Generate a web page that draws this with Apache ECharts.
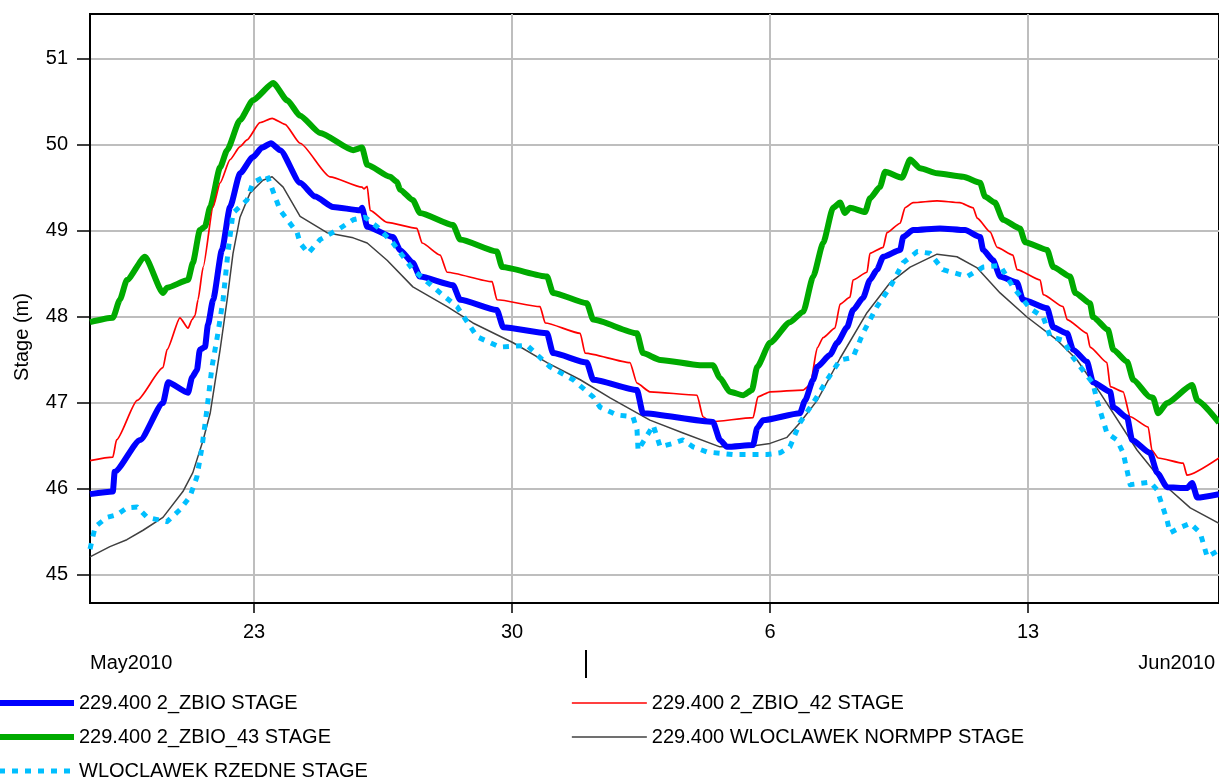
<!DOCTYPE html>
<html>
<head>
<meta charset="utf-8">
<script src="https://cdn.jsdelivr.net/npm/echarts@6/dist/echarts.min.js"></script>
<style>
html,body{margin:0;padding:0;background:#fff;}
#chart{width:1219px;height:781px;}
</style>
</head>
<body>
<div id="chart"></div>
<script>
// x = day number counted from May 1 (Jun 1 = 32)
const xTicks = [23, 30, 37, 44];
const yTicks = [45, 46, 47, 48, 49, 50, 51];
const monthBoundary = [32];
const seriesNames = [
  '229.400 2_ZBIO STAGE',
  '229.400 2_ZBIO_42 STAGE',
  '229.400 2_ZBIO_43 STAGE',
  '229.400 WLOCLAWEK NORMPP STAGE',
  'WLOCLAWEK RZEDNE STAGE'
];

const zbio = [
[18.55,45.94],[19.17,45.97],[19.22,46.20],[19.91,46.57],[20.53,47.00],[20.67,47.24],[21.21,47.12],[21.32,47.30],
[21.45,47.38],[21.53,47.62],[21.67,47.65],[21.75,47.91],[21.89,48.20],[22.13,48.78],[22.35,49.28],[22.62,49.67],
[22.97,49.86],[23.22,49.97],[23.46,50.02],[23.71,49.94],[24.25,49.56],[24.66,49.40],[25.14,49.28],[25.88,49.24],
[25.93,49.27],[26.07,49.05],[26.77,48.93],[26.96,48.78],[27.31,48.63],[27.50,48.47],[28.40,48.37],[28.59,48.20],
[29.59,48.08],[29.76,47.88],[30.95,47.81],[31.11,47.58],[32.03,47.47],[32.20,47.27],[33.39,47.15],[33.55,46.88],
[35.45,46.78],[35.64,46.57],[35.83,46.49],[36.54,46.51],[36.65,46.71],[36.81,46.80],[37.81,46.88],[37.95,47.03],
[38.17,47.27],[38.28,47.42],[38.63,47.56],[38.82,47.70],[39.09,47.88],[39.25,48.08],[39.52,48.22],[39.71,48.43],
[39.90,48.55],[40.07,48.70],[40.53,48.78],[40.61,48.93],[40.88,49.01],[41.61,49.03],[42.29,49.01],[42.70,48.93],
[42.78,48.78],[43.05,48.66],[43.24,48.47],[43.70,48.40],[43.86,48.20],[44.52,48.10],[44.68,47.88],[45.06,47.81],
[45.22,47.62],[45.60,47.48],[45.76,47.24],[46.23,47.13],[46.31,46.95],[46.69,46.83],[46.82,46.57],[47.31,46.42],
[47.50,46.19],[47.77,46.02],[48.31,46.01],[48.45,46.07],[48.59,45.90],[49.18,45.94]
];

const zbio42 = [
[18.55,46.33],[19.17,46.37],[19.27,46.57],[19.83,47.03],[20.53,47.41],[20.64,47.62],[20.99,47.99],[21.21,47.87],
[21.32,47.97],[21.40,48.02],[21.48,48.20],[21.62,48.58],[21.89,49.28],[22.08,49.56],[22.35,49.83],[22.62,49.98],
[22.81,50.06],[23.16,50.26],[23.49,50.31],[23.84,50.24],[24.25,50.02],[25.06,49.63],[25.93,49.51],[25.98,49.49],
[26.07,49.52],[26.15,49.24],[26.61,49.10],[27.42,49.03],[27.56,48.86],[28.05,48.72],[28.24,48.52],[29.46,48.41],
[29.59,48.20],[30.76,48.12],[30.90,47.93],[31.85,47.81],[31.98,47.58],[33.20,47.47],[33.39,47.23],[33.74,47.13],
[35.02,47.09],[35.18,46.84],[35.37,46.78],[36.54,46.83],[36.67,47.07],[37.00,47.13],[37.90,47.15],[38.09,47.21],
[38.28,47.64],[38.44,47.76],[38.76,47.87],[38.90,48.15],[39.17,48.23],[39.25,48.43],[39.63,48.52],[39.71,48.74],
[40.07,48.81],[40.17,48.98],[40.53,49.09],[40.66,49.27],[40.88,49.33],[41.53,49.35],[42.15,49.33],[42.51,49.27],
[42.62,49.15],[42.97,48.99],[43.16,48.81],[43.59,48.72],[43.70,48.55],[44.33,48.43],[44.41,48.26],[44.95,48.12],
[45.06,47.97],[45.60,47.81],[45.68,47.65],[46.14,47.47],[46.23,47.19],[46.58,47.13],[46.77,46.84],[47.26,46.72],
[47.36,46.45],[47.53,46.36],[48.21,46.30],[48.31,46.16],[49.18,46.36]
];

const zbio43 = [
[18.55,47.94],[19.17,47.99],[19.36,48.20],[19.55,48.43],[20.04,48.70],[20.53,48.28],[20.64,48.34],[21.21,48.43],
[21.34,48.63],[21.53,49.01],[21.67,49.05],[21.81,49.28],[22.08,49.74],[22.27,49.94],[22.62,50.29],[22.97,50.52],
[23.52,50.72],[23.90,50.52],[24.25,50.34],[24.79,50.14],[25.69,49.94],[25.93,49.97],[26.07,49.77],[26.69,49.63],
[26.88,49.57],[26.96,49.48],[27.31,49.36],[27.50,49.21],[28.40,49.07],[28.59,48.90],[29.59,48.76],[29.73,48.58],
[30.95,48.47],[31.11,48.28],[32.03,48.16],[32.20,47.97],[33.39,47.81],[33.55,47.58],[34.02,47.50],[35.10,47.44],
[35.45,47.44],[35.64,47.29],[35.91,47.13],[36.27,47.09],[36.51,47.15],[36.65,47.42],[37.00,47.70],[37.54,47.94],
[37.90,48.06],[38.17,48.47],[38.44,48.86],[38.71,49.27],[38.90,49.33],[39.03,49.21],[39.17,49.27],[39.58,49.22],
[39.71,49.38],[39.98,49.51],[40.12,49.69],[40.58,49.62],[40.80,49.83],[41.07,49.73],[41.53,49.67],[42.24,49.63],
[42.70,49.56],[42.83,49.40],[43.10,49.33],[43.32,49.13],[43.78,49.03],[43.92,48.87],[44.52,48.78],[44.68,48.58],
[45.14,48.47],[45.28,48.28],[45.68,48.16],[45.76,48.00],[46.17,47.85],[46.31,47.62],[46.69,47.48],[46.85,47.27],
[47.31,47.07],[47.39,47.06],[47.53,46.88],[47.77,47.00],[48.45,47.21],[48.59,47.03],[49.18,46.77]
];

const normpp = [
[18.55,45.21],[19.09,45.33],[19.55,45.41],[19.99,45.52],[20.53,45.67],[21.07,45.97],[21.34,46.19],[21.62,46.57],
[21.81,46.88],[22.08,47.62],[22.27,48.20],[22.43,48.74],[22.62,49.16],[22.89,49.44],[23.24,49.59],[23.49,49.63],
[23.79,49.51],[24.25,49.17],[24.98,48.98],[25.69,48.92],[26.07,48.86],[26.61,48.66],[27.31,48.35],[28.24,48.12],
[28.94,47.93],[30.03,47.70],[30.95,47.47],[31.85,47.27],[32.66,47.06],[33.74,46.80],[34.64,46.65],[35.64,46.49],
[36.38,46.49],[37.00,46.53],[37.46,46.60],[37.81,46.77],[38.28,47.03],[38.90,47.52],[39.63,48.05],[40.26,48.40],
[40.80,48.58],[41.53,48.73],[42.07,48.70],[42.62,48.57],[43.24,48.28],[43.97,48.00],[44.79,47.73],[45.33,47.50],
[45.95,47.12],[46.96,46.45],[47.77,46.02],[48.40,45.78],[49.18,45.60]
];

const rzedne = [
[18.55,45.30],[18.69,45.56],[19.01,45.67],[19.28,45.70],[19.55,45.78],[19.83,45.79],[20.10,45.67],[20.64,45.62],
[20.99,45.76],[21.26,45.91],[21.45,46.14],[21.59,46.49],[21.72,46.92],[21.86,47.42],[22.02,47.81],[22.16,48.20],
[22.29,48.74],[22.43,49.21],[22.81,49.36],[22.97,49.56],[23.35,49.65],[23.71,49.24],[24.17,48.98],[24.25,48.86],
[24.47,48.74],[24.79,48.90],[25.33,49.03],[25.69,49.13],[26.01,49.16],[26.34,49.05],[26.77,48.86],[27.31,48.55],
[28.05,48.28],[28.51,48.12],[29.05,47.77],[29.67,47.65],[30.41,47.67],[31.03,47.42],[31.66,47.27],[32.20,47.07],
[32.39,46.95],[32.85,46.86],[33.28,46.84],[33.39,46.69],[33.42,46.45],[33.83,46.74],[34.02,46.49],[34.37,46.53],
[34.64,46.57],[34.91,46.49],[35.29,46.43],[36.00,46.40],[36.92,46.40],[37.27,46.42],[37.54,46.49],[37.81,46.77],
[38.17,47.00],[38.55,47.27],[38.90,47.50],[39.25,47.53],[39.52,47.81],[39.90,48.12],[40.26,48.35],[40.61,48.63],
[40.99,48.76],[41.34,48.74],[41.69,48.55],[42.35,48.47],[42.78,48.58],[43.24,48.60],[43.59,48.35],[44.05,48.10],
[44.41,48.00],[44.60,47.77],[44.95,47.73],[45.22,47.53],[45.76,47.23],[45.87,47.03],[46.14,46.65],[46.41,46.57],
[46.58,46.42],[46.77,46.05],[47.31,46.08],[47.50,45.99],[47.77,45.64],[47.85,45.49],[48.12,45.55],[48.40,45.60],
[48.67,45.49],[48.86,45.21],[49.18,45.29]
];

const FONT = "'Liberation Sans', Arial, sans-serif";
const X_MIN = 18.55, X_MAX = 49.18, Y_MIN = 44.674, Y_MAX = 51.523;

const chart = echarts.init(document.getElementById('chart'), null, {renderer: 'canvas'});

function lineSeries(name, data, color, width, type, z, smooth) {
  return {
    name: name, type: 'line', data: data, symbol: 'none', showSymbol: false,
    smooth: smooth, smoothMonotone: 'x',
    xAxisIndex: 0, yAxisIndex: 0, z: z,
    lineStyle: {color: color, width: width, type: type || 'solid', cap: 'butt', join: 'round'},
    itemStyle: {color: color},
    emphasis: {disabled: true}, animation: false
  };
}

const legendText = {color: '#000', fontSize: 20, fontFamily: FONT, lineHeight: 20};
const legendCommon = {
  top: 693, orient: 'vertical', padding: 0, itemGap: 14, itemWidth: 75, itemHeight: 14,
  textStyle: legendText, selectedMode: false,
  itemStyle: {opacity: 0},
  lineStyle: {width: 'inherit', type: 'inherit', cap: 'butt'}
};

chart.setOption({
  animation: false,
  backgroundColor: '#fff',
  grid: {left: 90, top: 14, width: 1129, height: 589, show: true, borderColor: '#000', borderWidth: 2, backgroundColor: 'transparent'},
  xAxis: [{
    type: 'value', min: X_MIN, max: X_MAX,
    axisLine: {show: true, lineStyle: {color: '#000', width: 2}},
    axisTick: {show: true, customValues: xTicks, length: 10, lineStyle: {color: '#000', width: 1.5}},
    axisLabel: {show: true, customValues: xTicks, color: '#000', fontSize: 20, fontFamily: FONT, margin: 19,
      formatter: function (v) { return String(v > 31 ? v - 31 : v); }},
    splitLine: {show: true, lineStyle: {color: '#BEBEBE', width: 2}}
  }, {
    type: 'value', min: X_MIN, max: X_MAX, position: 'bottom', offset: 47, gridIndex: 0,
    axisLine: {show: false},
    axisTick: {show: true, customValues: monthBoundary, length: 28, lineStyle: {color: '#000', width: 2}},
    axisLabel: {show: false},
    splitLine: {show: false}
  }],
  yAxis: [{
    type: 'value', min: Y_MIN, max: Y_MAX,
    axisLine: {show: true, lineStyle: {color: '#000', width: 2}},
    axisTick: {show: true, customValues: yTicks, length: 13, lineStyle: {color: '#000', width: 1.5}},
    axisLabel: {show: true, customValues: yTicks, color: '#000', fontSize: 20, fontFamily: FONT, margin: 22},
    splitLine: {show: true, lineStyle: {color: '#BEBEBE', width: 2}}
  }],
  legend: [
    Object.assign({left: -4, data: [seriesNames[0], seriesNames[2], seriesNames[4]]}, legendCommon),
    Object.assign({left: 571, data: [seriesNames[1], seriesNames[3]]}, legendCommon)
  ],
  graphic: [
    {type: 'text', left: 90, top: 653, style: {text: 'May2010', fill: '#000', font: '20px ' + FONT}},
    {type: 'text', right: 4, top: 653, style: {text: 'Jun2010', fill: '#000', font: '20px ' + FONT}},
    {type: 'text', x: 22, y: 337, rotation: Math.PI / 2, style: {text: 'Stage (m)', fill: '#000', font: '20px ' + FONT, align: 'center', verticalAlign: 'middle'}}
  ],
  series: [
    lineSeries(seriesNames[0], zbio, '#0000FF', 6, 'solid', 5, 0.2),
    lineSeries(seriesNames[1], zbio42, '#FF0000', 1.7, 'solid', 4, 0.2),
    lineSeries(seriesNames[2], zbio43, '#00AA00', 6, 'solid', 3, 0.2),
    lineSeries(seriesNames[3], normpp, '#404040', 1.5, 'solid', 2, false),
    lineSeries(seriesNames[4], rzedne, '#00BFFF', 5, [6, 7], 6, false)
  ]
});
</script>
</body>
</html>
